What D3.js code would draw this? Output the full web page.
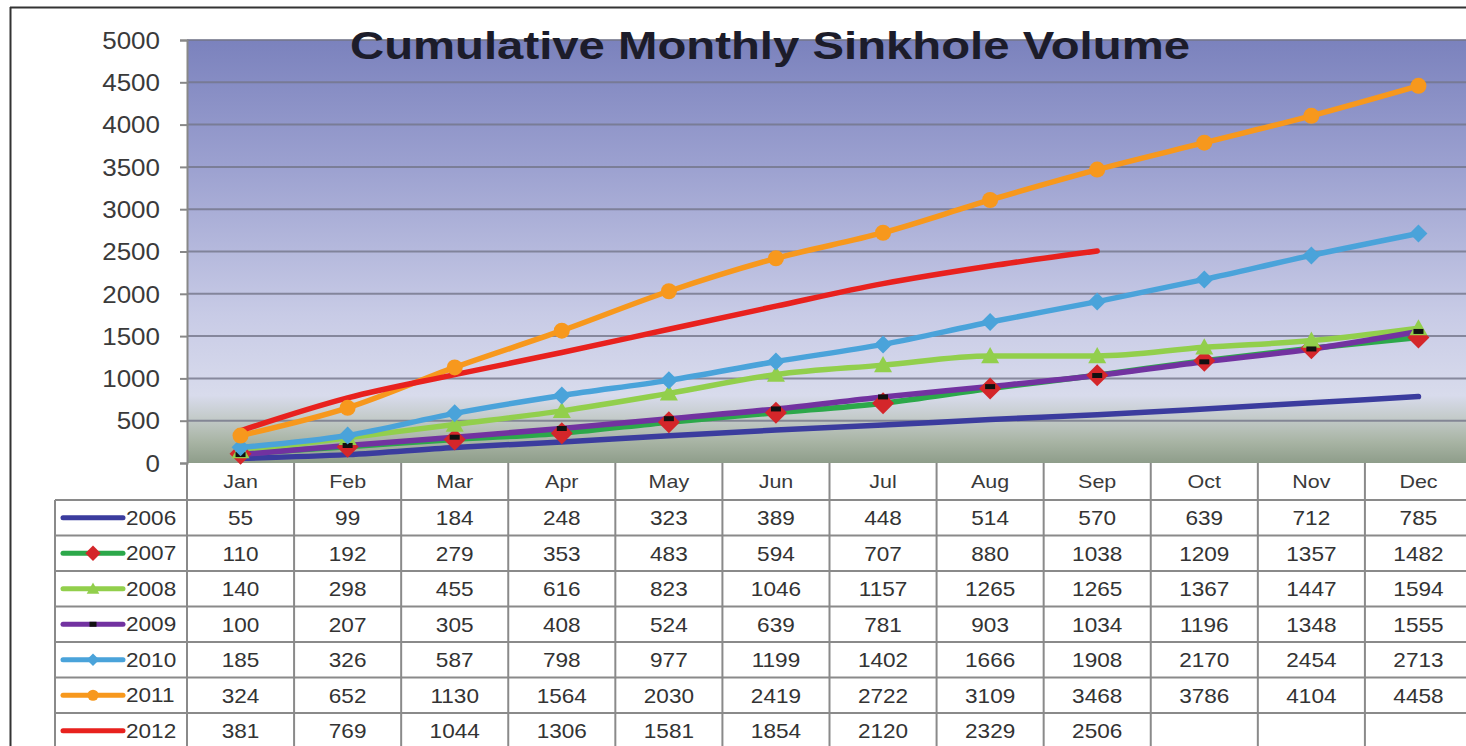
<!DOCTYPE html>
<html>
<head>
<meta charset="utf-8">
<script src="https://cdn.jsdelivr.net/npm/d3@7"></script>
<style>
  body { margin: 0; background: #fff; }
  svg { display: block; font-family: "Liberation Sans", Arial, sans-serif; }
</style>
</head>
<body>
<svg id="chart" width="1466" height="746"></svg>
<script>
// data
var months = ["Jan", "Feb", "Mar", "Apr", "May", "Jun", "Jul", "Aug", "Sep", "Oct", "Nov", "Dec"];
var years = ["2006", "2007", "2008", "2009", "2010", "2011", "2012"];
var v2006 = [55, 99, 184, 248, 323, 389, 448, 514, 570, 639, 712, 785];
var v2007 = [110, 192, 279, 353, 483, 594, 707, 880, 1038, 1209, 1357, 1482];
var v2008 = [140, 298, 455, 616, 823, 1046, 1157, 1265, 1265, 1367, 1447, 1594];
var v2009 = [100, 207, 305, 408, 524, 639, 781, 903, 1034, 1196, 1348, 1555];
var v2010 = [185, 326, 587, 798, 977, 1199, 1402, 1666, 1908, 2170, 2454, 2713];
var v2011 = [324, 652, 1130, 1564, 2030, 2419, 2722, 3109, 3468, 3786, 4104, 4458];
var v2012 = [381, 769, 1044, 1306, 1581, 1854, 2120, 2329, 2506];
var yTicks = [0, 500, 1000, 1500, 2000, 2500, 3000, 3500, 4000, 4500, 5000];

var seriesValues = [v2006, v2007, v2008, v2009, v2010, v2011, v2012];
var lineColors = ["#3b3c9e", "#2ca84a", "#92cf4c", "#7232a0", "#4aa3da", "#f7981d", "#e8211e"];
var markerTypes = ["none", "diamond", "triangle", "dash", "diamond", "circle", "none"];
var markerColors = ["none", "#d4262a", "#92cf4c", "#111", "#4aa3da", "#f7981d", "none"];

var svg = d3.select("#chart");

var plotLeft = 187, plotRight = 1472, plotTop = 40, plotBottom = 463;
var rowH = 35.5, headerBottom = 500, legendLeft = 55;
var xScale = 1.13;   // the source picture is stretched horizontally

var x = d3.scaleBand().domain(months).range([plotLeft, plotRight]).padding(0);
var y = d3.scaleLinear().domain([0, 5000]).range([plotBottom, plotTop]);

function stretchedText(sel, tx, ty) {
  return sel.attr("transform", "translate(" + tx + "," + ty + ") scale(" + xScale + ",1)");
}

// frame
svg.append("line").attr("x1", 10).attr("x2", 1466).attr("y1", 7.5).attr("y2", 7.5)
  .attr("stroke", "#333").attr("stroke-width", 2);
svg.append("line").attr("x1", 10.5).attr("x2", 10.5).attr("y1", 7).attr("y2", 746)
  .attr("stroke", "#333").attr("stroke-width", 2);

// background gradient
var grad = svg.append("defs").append("linearGradient")
  .attr("id", "bg").attr("x1", 0).attr("x2", 0).attr("y1", 0).attr("y2", 1);
[[0, "#7b82bd"], [0.3, "#9ca1d0"], [0.65, "#c8cbe6"], [0.84, "#d8dbec"],
 [0.89, "#c5cccc"], [0.95, "#a8b4a4"], [1, "#8e9d8a"]].forEach(function (s) {
  grad.append("stop").attr("offset", s[0]).attr("stop-color", s[1]);
});

svg.append("rect")
  .attr("x", plotLeft).attr("y", plotTop)
  .attr("width", plotRight - plotLeft).attr("height", plotBottom - plotTop)
  .attr("fill", "url(#bg)");

// gridlines
svg.append("g").selectAll("line")
  .data(yTicks.filter(function (d) { return d > 0; }))
  .enter().append("line")
  .attr("x1", plotLeft).attr("x2", plotRight)
  .attr("y1", function (d) { return y(d); }).attr("y2", function (d) { return y(d); })
  .attr("stroke", "#74768a").attr("stroke-width", 2).attr("opacity", 0.8);

// y axis
var yAxis = svg.append("g")
  .attr("transform", "translate(" + plotLeft + ",0)")
  .call(d3.axisLeft(y).tickValues(yTicks).tickSize(7).tickPadding(0).tickFormat(d3.format("d")));
yAxis.select(".domain").attr("stroke", "#888").attr("stroke-width", 2);
yAxis.selectAll(".tick line").attr("stroke", "#888").attr("stroke-width", 2);
yAxis.selectAll(".tick text").remove();
yAxis.selectAll(".tick").append("text")
  .attr("fill", "#3a3a3a").attr("font-size", 23).attr("text-anchor", "end")
  .attr("dy", "0.36em")
  .attr("transform", "translate(-27,0) scale(" + xScale + ",1)")
  .text(function (d) { return d; });

// title
svg.append("text")
  .attr("x", 770).attr("y", 59)
  .attr("text-anchor", "middle")
  .attr("font-size", 39).attr("font-weight", "bold").attr("fill", "#1c1c2a")
  .attr("textLength", 840).attr("lengthAdjust", "spacingAndGlyphs")
  .text("Cumulative Monthly Sinkhole Volume");

// lines
var line = d3.line()
  .x(function (d, i) { return x(months[i]) + x.bandwidth() / 2; })
  .y(function (d) { return y(d); })
  .curve(d3.curveMonotoneX);

var lineG = svg.append("g");
seriesValues.forEach(function (vals, k) {
  lineG.append("path")
    .datum(vals)
    .attr("d", line)
    .attr("fill", "none")
    .attr("stroke", lineColors[k])
    .attr("stroke-width", 5.5)
    .attr("stroke-linecap", "round")
    .attr("stroke-linejoin", "round");
});

// markers
function drawMarker(g, type, color, cx, cy, s) {
  s = s || 1;
  if (type === "diamond") {
    var r = (color === "#d4262a" ? 11 : 9) * s;
    g.append("path")
      .attr("d", "M" + cx + "," + (cy - r) + "L" + (cx + r) + "," + cy + "L" + cx + "," + (cy + r) + "L" + (cx - r) + "," + cy + "Z")
      .attr("fill", color);
  } else if (type === "triangle") {
    var t = 9 * s;
    g.append("path")
      .attr("d", "M" + cx + "," + (cy - t) + "L" + (cx + t) + "," + (cy + t * 0.8) + "L" + (cx - t) + "," + (cy + t * 0.8) + "Z")
      .attr("fill", color);
  } else if (type === "circle") {
    g.append("circle").attr("cx", cx).attr("cy", cy).attr("r", 8 * s).attr("fill", color);
  } else if (type === "dash") {
    g.append("rect").attr("x", cx - 5 * s).attr("y", cy - 2.5).attr("width", 10 * s).attr("height", 5)
      .attr("fill", color);
  }
}

var markG = svg.append("g");
seriesValues.forEach(function (vals, k) {
  if (markerTypes[k] === "none") return;
  vals.forEach(function (v, i) {
    drawMarker(markG, markerTypes[k], markerColors[k], x(months[i]) + x.bandwidth() / 2, y(v));
  });
});

// data table
var tbl = svg.append("g");
var tableBottom = headerBottom + rowH * years.length;
var gridColor = "#8a8a8a";

// horizontal rules
for (var r = 0; r <= years.length; r++) {
  tbl.append("line")
    .attr("x1", legendLeft).attr("x2", plotRight)
    .attr("y1", headerBottom + r * rowH).attr("y2", headerBottom + r * rowH)
    .attr("stroke", gridColor).attr("stroke-width", 2);
}
// vertical rules
tbl.append("line").attr("x1", legendLeft).attr("x2", legendLeft)
  .attr("y1", headerBottom).attr("y2", tableBottom)
  .attr("stroke", gridColor).attr("stroke-width", 2);
months.forEach(function (m) {
  tbl.append("line")
    .attr("x1", x(m)).attr("x2", x(m))
    .attr("y1", plotBottom).attr("y2", tableBottom)
    .attr("stroke", gridColor).attr("stroke-width", 2);
});

// header
months.forEach(function (m) {
  stretchedText(tbl.append("text"), x(m) + x.bandwidth() / 2, 488)
    .attr("text-anchor", "middle").attr("font-size", 19).attr("fill", "#3a3a3a")
    .text(m);
});

// rows
years.forEach(function (yr, k) {
  var cy = headerBottom + k * rowH + rowH / 2;
  var g = tbl.append("g");
  g.append("line")
    .attr("x1", 63).attr("x2", 123).attr("y1", cy).attr("y2", cy)
    .attr("stroke", lineColors[k]).attr("stroke-width", 5).attr("stroke-linecap", "round");
  drawMarker(g, markerTypes[k], markerColors[k], 93, cy, 0.7);
  stretchedText(g.append("text"), 126, cy + 7)
    .attr("font-size", 20).attr("fill", "#333").text(yr);
  seriesValues[k].forEach(function (v, i) {
    stretchedText(g.append("text"), x(months[i]) + x.bandwidth() / 2, cy + 7.5)
      .attr("text-anchor", "middle").attr("font-size", 20).attr("fill", "#333")
      .text(v);
  });
});
</script>
</body>
</html>
